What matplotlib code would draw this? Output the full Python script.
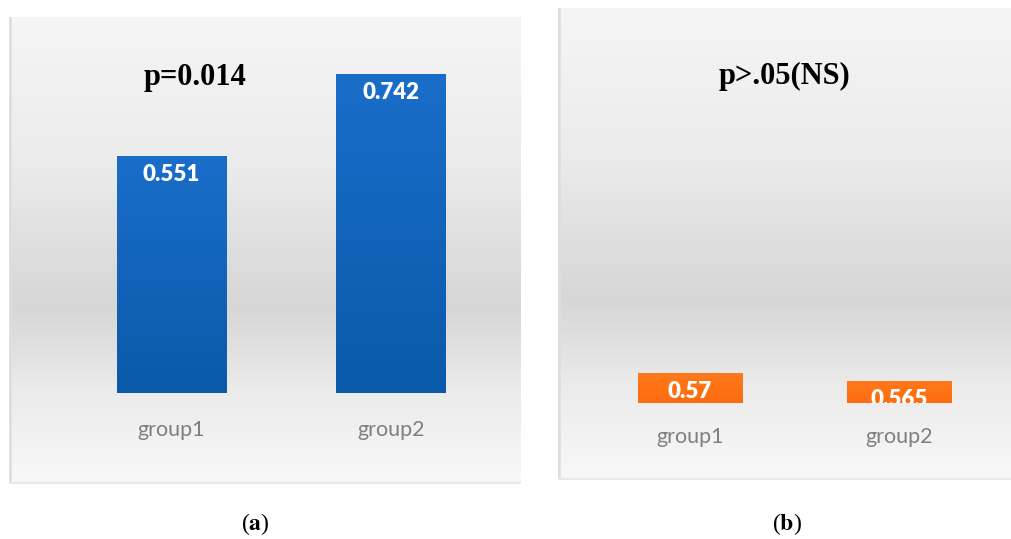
import numpy as np
import matplotlib
matplotlib.use("Agg")
import matplotlib.pyplot as plt
from matplotlib.colors import LinearSegmentedColormap

# data
groups = ["group1", "group2"]
values_a = [0.551, 0.742]
values_b = [0.57, 0.565]
title_a = "p=0.014"
title_b = "p>.05(NS)"
captions = ["a", "b"]

W, H = 1011, 539
fig = plt.figure(figsize=(W / 100, H / 100), dpi=100)
fig.patch.set_facecolor("white")

bg_cmap = LinearSegmentedColormap.from_list(
    "bg", [(0.0, "#f5f5f5"), (0.3, "#ececec"), (0.62, "#d6d6d6"),
           (0.8, "#ebebeb"), (1.0, "#f8f8f8")])


def panel_axes(left, top, right, bottom):
    return fig.add_axes([left / W, (H - bottom) / H, (right - left) / W, (bottom - top) / H])


def draw_panel(ax, values, ylim, xlim, base, top_col, bot_col, label_y):
    ax.set_xlim(*xlim)
    ax.set_ylim(*ylim)
    # gradient background (row 0 at the top)
    grad = np.linspace(0, 1, 256).reshape(-1, 1)
    ax.imshow(grad, cmap=bg_cmap, aspect="auto", extent=(*xlim, *ylim),
              origin="upper", zorder=0)
    ax.axvline(xlim[0], color="#dedede", lw=4, zorder=1)
    ax.axhline(ylim[0], color="#e8e8e8", lw=3, zorder=1)

    bar_cmap = LinearSegmentedColormap.from_list("bar", [top_col, bot_col])
    bars = ax.bar(range(len(values)), [v - base for v in values], bottom=base,
                  width=0.5, color=bot_col, zorder=2)
    for i, (b, v) in enumerate(zip(bars, values)):
        x0, y0, w, h = b.get_x(), b.get_y(), b.get_width(), b.get_height()
        im = ax.imshow(grad, cmap=bar_cmap, aspect="auto",
                       extent=(x0, x0 + w, y0, y0 + h), zorder=3)
        im.set_clip_path(b)
        t = ax.annotate(f"{v:g}", (i, v), xytext=(0, -6), textcoords="offset points",
                        ha="center", va="top", color="white", fontsize=16,
                        fontweight="heavy", family="Lato", zorder=4)
        t.set_clip_path(b)
        ax.text(i, label_y, groups[i], transform=ax.get_xaxis_transform(),
                ha="center", va="center", color="#7f7f7f", fontsize=15.5,
                family="Lato", zorder=4)
    ax.set_xlim(*xlim)
    ax.set_ylim(*ylim)
    ax.axis("off")


ax_a = panel_axes(9, 17, 521, 484)
draw_panel(ax_a, values_a, (-0.2116, 0.8744), (-0.740, 1.592), 0.0,
           "#1a6dc9", "#0a5aa9", 0.1156)
ax_a.text(0.109, 0.7326, title_a, ha="center", va="center", fontsize=22,
          fontweight="bold", family="Liberation Serif", color="black", zorder=5)

ax_b = panel_axes(558, 8, 1011, 480)
draw_panel(ax_b, values_b, (0.5029, 0.7979), (-0.632, 1.536), 0.551,
           "#ff7a1c", "#fc6c10", 0.091)
ax_b.text(0.45, 0.7548, title_b, ha="center", va="center", fontsize=22,
          fontweight="bold", family="Liberation Serif", color="black", zorder=5)

# captions: regular parentheses, bold letter
for cap, xc in zip(captions, [255, 787]):
    fig.text(xc / W, 1 - 524 / H, "(" + r"$\mathbf{" + cap + "}$" + ")",
             ha="center", va="center", fontsize=17, family="Liberation Serif",
             math_fontfamily="stix")

fig.savefig("out.png", dpi=100)
